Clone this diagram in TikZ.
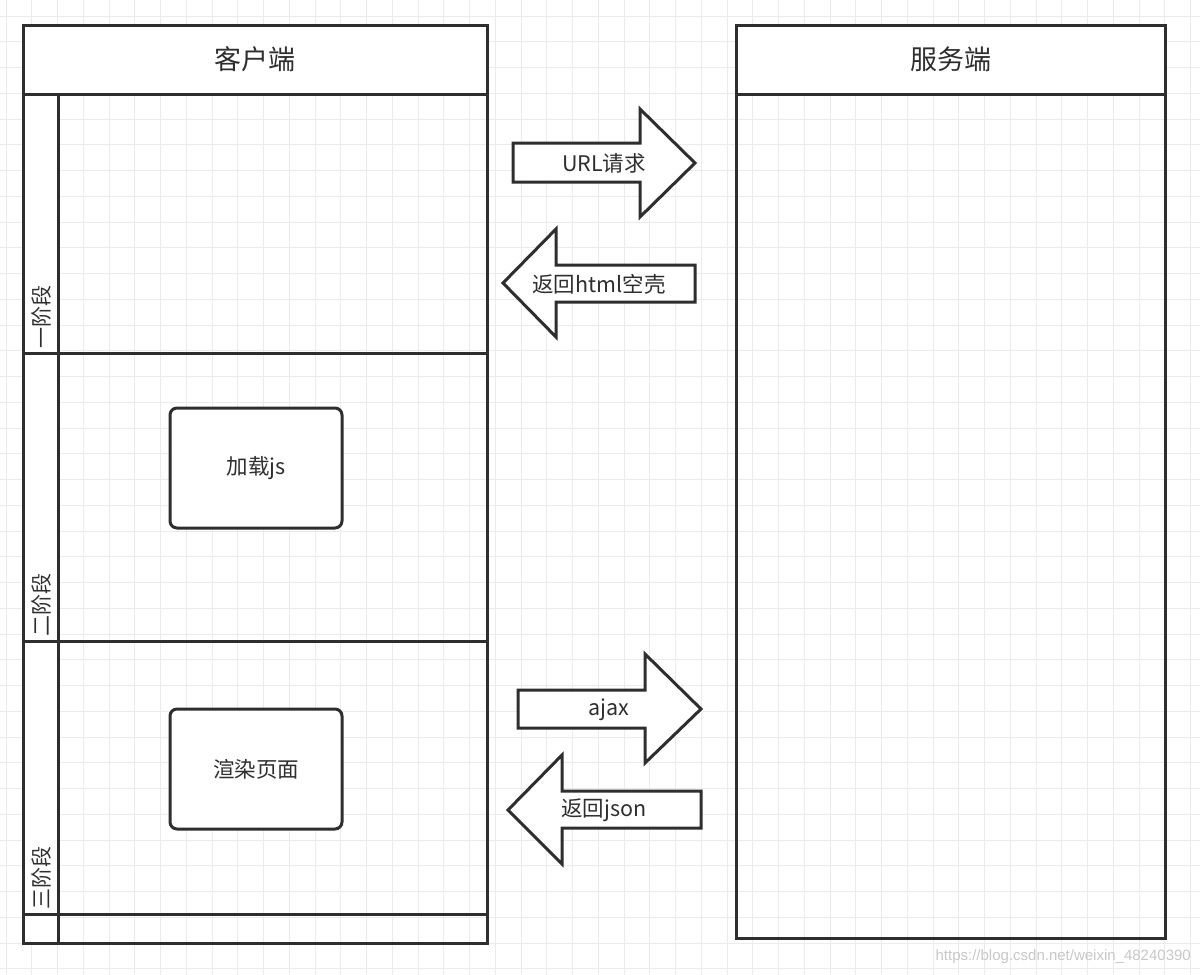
\documentclass[tikz,border=0pt]{standalone}
\usepackage{fontspec}
\setmainfont{Noto Sans CJK SC}
\newfontfamily\wmfont{Liberation Sans}
\definecolor{ink}{HTML}{2E2E2E}
\definecolor{gridc}{HTML}{EBEBEB}
\definecolor{wmc}{HTML}{C8C8C8}
\begin{document}
\begin{tikzpicture}[x=1pt,y=-1pt,
  ln/.style={draw=ink,line width=3pt},
  gridline/.style={draw=gridc,line width=1pt},
  hdr/.style={ln,fill=white,inner sep=0pt,font=\fontsize{27}{30}\selectfont,text=ink},
  phase/.style={rotate=90,anchor=west,inner sep=1pt,font=\fontsize{21}{24}\selectfont,text=ink},
  box/.style={ln,fill=white,rounded corners=7pt,minimum width=172pt,minimum height=120pt,inner sep=0pt,font=\fontsize{21.5}{24}\selectfont,text=ink},
  blk/.style={ln,fill=white,line join=miter},
  lbl/.style={inner sep=0pt,font=\fontsize{21.5}{24}\selectfont,text=ink}]
\fill[white] (0,0) rectangle (1200,975);
\useasboundingbox (0,0) rectangle (1200,975);
% grid
\foreach \i in {0,...,46} \draw[gridline] ({6+25.75*\i},0) -- ({6+25.75*\i},975);
\foreach \i in {0,...,37} \draw[gridline] (0,{16+25.75*\i}) -- (1200,{16+25.75*\i});
% client lane
\draw[ln,fill=white] (23,94) rectangle (58,943);
\node[hdr,minimum width=464pt,minimum height=69pt] (chead) at (255,59.5) {客户端};
\draw[ln] (23,353) -- (487,353);
\draw[ln] (23,641) -- (487,641);
\draw[ln] (23,914) -- (487,914);
\draw[ln] (23,25) rectangle (487,943);
\node[phase] (p1) at (41,350) {一阶段};
\node[phase] (p2) at (41,638) {二阶段};
\node[phase] (p3) at (41,911) {三阶段};
% server lane
\draw[ln] (736,25) rectangle (1165,938);
\node[hdr,minimum width=429pt,minimum height=69pt] (shead) at (950.5,59.5) {服务端};
% boxes
\node[box] (js) at (256,468) {加载js};
\node[box] (render) at (256,769) {渲染页面};
% block arrows
\draw[blk] (513,143) -- (640,143) -- (640,109) -- (695,163) -- (640,217) -- (640,182) -- (513,182) -- cycle;
\node[lbl] (url) at (604,163) {URL请求};
\draw[blk] (695,265) -- (556,265) -- (556,229) -- (503,283) -- (556,337) -- (556,302) -- (695,302) -- cycle;
\node[lbl] (html) at (599,284) {返回html空壳};
\draw[blk] (518,690) -- (645,690) -- (645,654) -- (701,709) -- (645,763) -- (645,728) -- (518,728) -- cycle;
\node[lbl] (ajax) at (609,710) {ajax};
\draw[blk] (701,791) -- (562,791) -- (562,755) -- (508,810) -- (562,864) -- (562,828) -- (701,828) -- cycle;
\node[lbl] (json) at (604,810) {返回json};
% watermark
\node[anchor=east,inner sep=0pt,font=\wmfont\fontsize{15}{18}\selectfont,text=wmc] (wm) at (1191,957) {https://blog.csdn.net/weixin\_48240390};
\end{tikzpicture}
\end{document}
